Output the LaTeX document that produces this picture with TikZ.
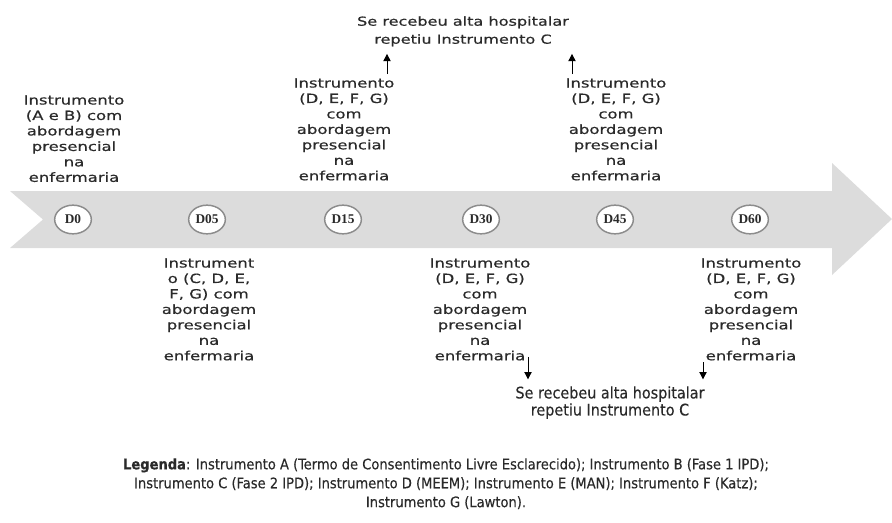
\documentclass[tikz,border=0pt]{standalone}
\usepackage{fontspec}
\setmainfont{DejaVu Sans}
\newfontfamily\wideface[FakeStretch=1.3, FakeBold=0.6]{DejaVu Sans}
\newfontfamily\narrowface[FakeBold=0.3]{DejaVu Sans Condensed}
\newfontfamily\dayface{Liberation Serif}
\usepackage{xcolor}
\definecolor{colBand}{HTML}{DCDCDC}
\definecolor{colRing}{HTML}{8C8C8C}
\definecolor{colText}{HTML}{2A2A2A}
\usepackage{tikz}
\usetikzlibrary{arrows.meta, positioning, shapes.geometric}

\begin{document}
\begin{tikzpicture}[
		x=0.75pt, y=-0.75pt,
		every node/.style={text=colText},
		day/.style={draw=colRing, line width=1.1pt, fill=white, ellipse, inner sep=0pt,
		            minimum width=27.5pt, minimum height=21.5pt,
		            font=\dayface\fontsize{10}{12}\selectfont\bfseries},
		stage/.style={align=center, inner sep=0pt, font=\wideface\fontsize{9.5}{11.6}\selectfont},
		note/.style={align=center, inner sep=0pt},
		arr/.style={-{Triangle[length=5.5pt, width=5.5pt]}, line width=0.6pt, black}
	]
	\useasboundingbox (0,0) rectangle (892,522);

	% timeline band
	\fill[colBand] (10,191) -- (832,191) -- (832,163) -- (892,219) -- (832,275)
	               -- (832,248) -- (10,248) -- (43,219.5) -- cycle;

	% days
	\node[day] (d0)  at (73,219.5)  {D0};
	\node[day] (d05) at (207,219.5) {D05};
	\node[day] (d15) at (343,219.5) {D15};
	\node[day] (d30) at (481,219.5) {D30};
	\node[day] (d45) at (615,219.5) {D45};
	\node[day] (d60) at (750,219.5) {D60};

	% above the band
	\node[stage, anchor=north] (txt0) at (74,95)
	     {Instrumento\\(A e B) com\\abordagem\\presencial\\na\\enfermaria};
	\node[stage, anchor=north] (txt15) at (344,78)
	     {Instrumento\\(D, E, F, G)\\com\\abordagem\\presencial\\na\\enfermaria};
	\node[stage, anchor=north] (txt45) at (616,78)
	     {Instrumento\\(D, E, F, G)\\com\\abordagem\\presencial\\na\\enfermaria};
	\node[stage, anchor=north, font=\wideface\fontsize{9.3}{13.5}\selectfont] (alta1) at (463,16)
	     {Se recebeu alta hospitalar\\repetiu Instrumento C};

	% below the band
	\node[stage, anchor=north] (txt05) at (209,258)
	     {Instrument\\o (C, D, E,\\F, G) com\\abordagem\\presencial\\na\\enfermaria};
	\node[stage, anchor=north] (txt30) at (480,258)
	     {Instrumento\\(D, E, F, G)\\com\\abordagem\\presencial\\na\\enfermaria};
	\node[stage, anchor=north] (txt60) at (751,258)
	     {Instrumento\\(D, E, F, G)\\com\\abordagem\\presencial\\na\\enfermaria};
	\node[note, anchor=north, font=\narrowface\fontsize{12}{12.8}\selectfont] (alta2) at (610,386)
	     {Se recebeu alta hospitalar\\repetiu Instrumento C};

	% arrows to the discharge notes
	\coordinate (up15) at (387,0);
	\coordinate (up45) at (572,0);
	\coordinate (dn30) at (528,0);
	\coordinate (dn60) at (703,0);
	\draw[arr] ([yshift=3pt]txt15.north -| up15) -- ([yshift=-5.5pt]alta1.south -| up15);
	\draw[arr] ([yshift=3pt]txt45.north -| up45) -- ([yshift=-5.5pt]alta1.south -| up45);
	\draw[arr] ([yshift=3pt]txt30.south -| dn30) -- ([yshift=5pt]alta2.north -| dn30);
	\draw[arr] ([yshift=-1pt]txt60.south -| dn60) -- ([yshift=5pt]alta2.north -| dn60);

	% legend
	\node[note, anchor=north, font=\narrowface\fontsize{10.9}{14.2}\selectfont] (legend) at (446,458)
	     {\textbf{Legenda}: Instrumento A (Termo de Consentimento Livre Esclarecido); Instrumento B (Fase 1 IPD);\\
	      Instrumento C (Fase 2 IPD); Instrumento D (MEEM); Instrumento E (MAN); Instrumento F (Katz);\\
	      Instrumento G (Lawton).};
\end{tikzpicture}
\end{document}
